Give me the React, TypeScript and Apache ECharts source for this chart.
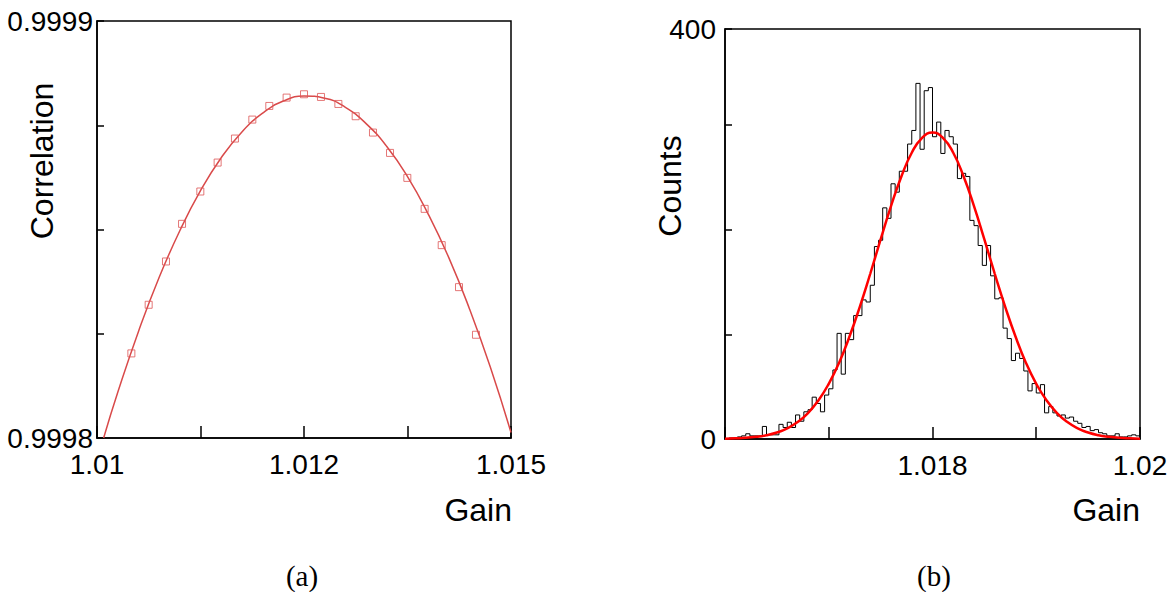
import React, { useEffect, useRef } from "react";
import * as echarts from "echarts";

// ---------- (a) Correlation vs Gain ----------
const corrGain = [
  1.010415, 1.010624, 1.010833, 1.011027, 1.011248, 1.011457, 1.011666,
  1.011876, 1.012081, 1.01229, 1.0125, 1.012705, 1.012915, 1.013124,
  1.013333, 1.013539, 1.013748, 1.013957, 1.014163, 1.014372, 1.014577,
];
const corrValue = [
  0.99982029, 0.99983195, 0.99984233, 0.99985136, 0.99985911, 0.99986605,
  0.99987181, 0.99987636, 0.99987963, 0.99988163, 0.99988243, 0.99988179,
  0.99988011, 0.99987716, 0.99987324, 0.99986837, 0.99986238, 0.99985495,
  0.99984625, 0.99983618, 0.99982476,
];
const fitGain = [
  1.01008, 1.01025, 1.0105, 1.01075, 1.011, 1.01125, 1.0115, 1.01175, 1.012,
  1.01225, 1.0125, 1.01275, 1.013, 1.01325, 1.0135, 1.01375, 1.014, 1.01425,
  1.0145, 1.01475, 1.015,
];
const fitValue = [
  0.9998, 0.9998109, 0.9998255, 0.9998385, 0.9998497, 0.9998593, 0.9998672,
  0.9998734, 0.9998779, 0.9998808, 0.999882, 0.9998815, 0.9998793, 0.9998754,
  0.9998699, 0.9998627, 0.9998537, 0.9998432, 0.9998309, 0.999817, 0.9998013,
];

// ---------- (b) Counts histogram ----------
const histStart = 1.016;
const histBinWidth = 0.00004;
const histCounts = [
  0, 1, 1, 2, 3, 5, 3, 3, 3, 12, 4, 4, 4, 14, 11, 16, 11, 23, 17, 26,
  28, 40, 34, 26, 42, 48, 66, 101, 62, 101, 95, 118, 118, 133, 131, 147, 184, 190, 221, 211,
  244, 236, 256, 256, 282, 295, 340, 277, 333, 336, 289, 303, 273, 295, 289, 282, 249, 254, 251, 209,
  204, 185, 166, 185, 156, 134, 135, 106, 96, 75, 82, 77, 65, 46, 53, 44, 52, 25, 31, 25,
  22, 23, 20, 21, 17, 15, 11, 12, 8, 9, 6, 5, 3, 3, 5, 2, 2, 3, 4, 3,
];
const gaussGain = [
  1.016, 1.0161, 1.0162, 1.0163, 1.0164, 1.0165, 1.0166, 1.0167, 1.0168, 1.0169,
  1.017, 1.0171, 1.0172, 1.0173, 1.0174, 1.0175, 1.0176, 1.0177, 1.0178, 1.0179,
  1.018, 1.0181, 1.0182, 1.0183, 1.0184, 1.0185, 1.0186, 1.0187, 1.0188, 1.0189,
  1.019, 1.0191, 1.0192, 1.0193, 1.0194, 1.0195, 1.0196, 1.0197, 1.0198, 1.0199,
  1.02,
];
const gaussCounts = [
  0.3, 0.6, 1.1, 2.1, 3.6, 6.2, 10.2, 16.2, 24.8, 36.8,
  52.8, 73, 98, 126.6, 158, 190.8, 222.7, 251, 273.7, 288,
  293, 288, 273.7, 251, 222.7, 190.8, 158, 126.6, 98, 73,
  52.8, 36.8, 24.8, 16.2, 10.2, 6.2, 3.6, 2.1, 1.1, 0.6,
  0.3,
];

// tick labels
const leftXLabels = [
  { v: 1.01, t: "1.01" },
  { v: 1.0125, t: "1.012" },
  { v: 1.015, t: "1.015" },
];
const leftYLabels = [
  { v: 0.9998, t: "0.9998" },
  { v: 0.9999, t: "0.9999" },
];
const rightXLabels = [
  { v: 1.018, t: "1.018" },
  { v: 1.02, t: "1.02" },
];
const rightYLabels = [
  { v: 0, t: "0" },
  { v: 392, t: "400" },
];

const pick = (list: { v: number; t: string }[], tol: number) => (val: number) => {
  for (const l of list) if (Math.abs(val - l.v) < tol) return l.t;
  return "";
};

const TICK_FONT = "Liberation Sans";
const BLACK = "#000";

export default function App() {
  const ref = useRef<HTMLDivElement>(null);
  useEffect(() => {
    if (!ref.current) return;
    const chart = echarts.init(ref.current, undefined, { renderer: "svg" });

    const axisCommon = (tickLen: number, margin: number) => ({
      axisLine: { show: true, onZero: false, lineStyle: { color: BLACK, width: 1.5 } },
      axisTick: { show: true, inside: true, length: tickLen, lineStyle: { color: BLACK, width: 1.5 } },
      splitLine: { show: false },
      axisLabel: {
        margin,
        fontSize: 28,
        color: BLACK,
        fontFamily: TICK_FONT,
        showMinLabel: true,
        showMaxLabel: true,
        hideOverlap: false,
      },
    });

    const mk = (base: any, fmt: (v: number) => string) => ({
      ...base,
      axisLabel: { ...base.axisLabel, formatter: fmt },
    });

    const histData = histCounts.map((c, i) => [histStart + i * histBinWidth, c]);
    histData.push([histStart + histCounts.length * histBinWidth, histCounts[histCounts.length - 1]]);

    const titleFont = { fontFamily: TICK_FONT, fontSize: 32, fill: BLACK };

    chart.setOption({
      animation: false,
      backgroundColor: "#fff",
      grid: [
        { left: 97, top: 21, width: 414, height: 417, show: true, borderColor: BLACK, borderWidth: 1.5, backgroundColor: "transparent" },
        { left: 725, top: 29, width: 415, height: 410, show: true, borderColor: BLACK, borderWidth: 1.5, backgroundColor: "transparent" },
      ],
      xAxis: [
        mk({ type: "value", gridIndex: 0, min: 1.01, max: 1.015, interval: 0.00125, ...axisCommon(12, 12) }, pick(leftXLabels, 1e-6)),
        mk({ type: "value", gridIndex: 1, min: 1.016, max: 1.02, interval: 0.001, ...axisCommon(12, 12) }, pick(rightXLabels, 1e-6)),
      ],
      yAxis: [
        mk({ type: "value", gridIndex: 0, min: 0.9998, max: 0.9999, interval: 0.000025, ...axisCommon(7, 4) }, pick(leftYLabels, 1e-7)),
        mk({ type: "value", gridIndex: 1, min: 0, max: 392, interval: 100, ...axisCommon(7, 9) }, pick(rightYLabels, 1)),
      ],
      series: [
        {
          type: "line",
          xAxisIndex: 0,
          yAxisIndex: 0,
          data: fitGain.map((g, i) => [g, fitValue[i]]),
          smooth: true,
          symbol: "none",
          lineStyle: { color: "#d94a4a", width: 1.5 },
          z: 2,
        },
        {
          type: "scatter",
          xAxisIndex: 0,
          yAxisIndex: 0,
          data: corrGain.map((g, i) => [g, corrValue[i]]),
          symbol: "rect",
          symbolSize: 7,
          itemStyle: { color: "rgba(0,0,0,0)", borderColor: "#dd5555", borderWidth: 1 },
          z: 3,
        },
        {
          type: "line",
          xAxisIndex: 1,
          yAxisIndex: 1,
          data: histData,
          step: "end",
          symbol: "none",
          lineStyle: { color: BLACK, width: 1 },
          z: 2,
        },
        {
          type: "line",
          xAxisIndex: 1,
          yAxisIndex: 1,
          data: gaussGain.map((g, i) => [g, gaussCounts[i]]),
          smooth: true,
          symbol: "none",
          lineStyle: { color: "#ff0000", width: 2.5 },
          z: 3,
        },
      ],
      graphic: [
        { type: "text", x: 42, y: 161, rotation: Math.PI / 2, style: { ...titleFont, text: "Correlation", align: "center", verticalAlign: "middle" } },
        { type: "text", x: 512, y: 510, style: { ...titleFont, text: "Gain", align: "right", verticalAlign: "middle" } },
        { type: "text", x: 670, y: 186, rotation: Math.PI / 2, style: { ...titleFont, text: "Counts", align: "center", verticalAlign: "middle" } },
        { type: "text", x: 1140, y: 510, style: { ...titleFont, text: "Gain", align: "right", verticalAlign: "middle" } },
        { type: "text", x: 302, y: 576, style: { fontFamily: "Liberation Serif", fontSize: 29, fill: BLACK, text: "(a)", align: "center", verticalAlign: "middle" } },
        { type: "text", x: 934, y: 576, style: { fontFamily: "Liberation Serif", fontSize: 29, fill: BLACK, text: "(b)", align: "center", verticalAlign: "middle" } },
      ],
    });
    return () => chart.dispose();
  }, []);
  return (
    <div
      ref={ref}
      style={{ position: "fixed", left: 0, top: 0, width: 1173, height: 592, background: "#fff" }}
    />
  );
}
